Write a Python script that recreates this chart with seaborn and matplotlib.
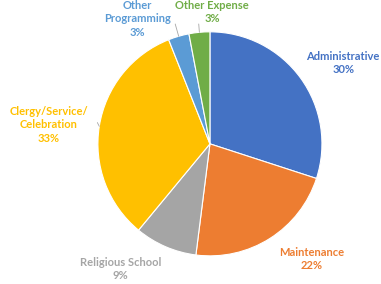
import matplotlib
matplotlib.use("Agg")
import matplotlib.pyplot as plt
import numpy as np
import seaborn as sns

sns.set_theme(style="white")
plt.rcParams["font.family"] = ["Lato", "DejaVu Sans"]

categories = ["Administrative", "Maintenance", "Religious School",
              "Clergy/Service/\nCelebration", "Other\nProgramming", "Other Expense"]
shares = [30, 22, 9, 33, 3, 3]
colors = ["#4472C4", "#ED7D31", "#A5A5A5", "#FFC000", "#5B9BD5", "#70AD47"]

# label centres in pie units (radius = 1)
label_pos = [(1.19, 0.72), (0.91, -1.03), (-0.80, -1.12),
             (-1.44, 0.17), (-0.65, 1.115), (0.02, 1.18)]
# where a leader line ends near the label (None = no line)
leader_end = [None, None, None, (-1.005, 0.19), (-0.31, 1.07), (-0.10, 1.07)]

fig = plt.figure(figsize=(3.81, 2.84), dpi=100)
ax = fig.add_axes([0.257, 0.099, 0.588, 0.789])

wedges, _ = ax.pie(shares, colors=colors, startangle=90, counterclock=False,
                   wedgeprops=dict(edgecolor="white", linewidth=0.8))
ax.set_aspect("equal")
ax.set_xlim(-1, 1)
ax.set_ylim(-1, 1)

for w, name, val, col, pos, end in zip(wedges, categories, shares, colors,
                                        label_pos, leader_end):
    ax.text(pos[0], pos[1], f"{name}\n{val}%", color=col, ha="center", va="center",
            fontsize=8, fontweight="bold", linespacing=1.25, clip_on=False)
    if end is not None:
        mid = np.deg2rad((w.theta1 + w.theta2) / 2)
        ax.plot([np.cos(mid), end[0]], [np.sin(mid), end[1]], color="#A6A6A6",
                linewidth=0.6, clip_on=False)

fig.savefig("out.png", dpi=100)
